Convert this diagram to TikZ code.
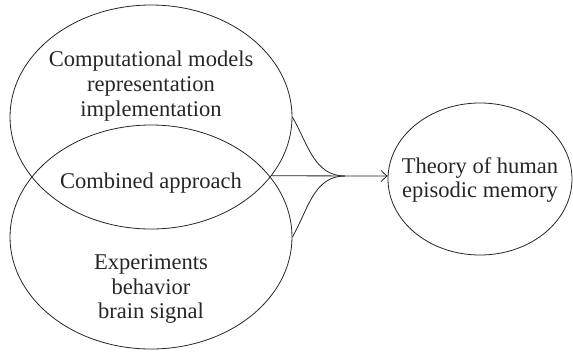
\documentclass[tikz,border=0pt]{standalone}
\usepackage{fontspec}
\setmainfont{Liberation Serif}
\usetikzlibrary{shapes.geometric,arrows.meta}
\tikzset{
  oval/.style={draw=black!85, line width=0.8pt, ellipse, inner sep=0pt},
  lbl/.style={align=center, font=\fontsize{22.6}{25}\selectfont, text=black!85, inner sep=0pt},
  link/.style={draw=black!85, line width=0.8pt},
}
\begin{document}
\begin{tikzpicture}[x=1bp,y=-1bp]
\useasboundingbox (0,0) rectangle (573,351);
\node[oval, minimum width=282bp, minimum height=224bp] (top) at (151,117) {};
\node[oval, minimum width=282bp, minimum height=224bp] (bot) at (151,237) {};
\node[oval, minimum width=184bp, minimum height=152bp] (thy) at (480,179) {};
\node[lbl] (t1) at (151,86) {Computational models\\representation\\implementation};
\node[lbl] (t2) at (151,183) {Combined approach};
\node[lbl] (t3) at (151,289) {Experiments\\behavior\\brain signal};
\node[lbl] (t4) at (480,180) {Theory of human\\episodic memory};
\coordinate (m) at (345,176);
\path[link, -{Straight Barb[length=6bp,width=11bp]}] (top.-26) -- (thy.west |- m);
\path[link] (top.east) to[out=-60, in=180] (m);
\path[link] (bot.east) to[out=60, in=180] (m);
\end{tikzpicture}
\end{document}
